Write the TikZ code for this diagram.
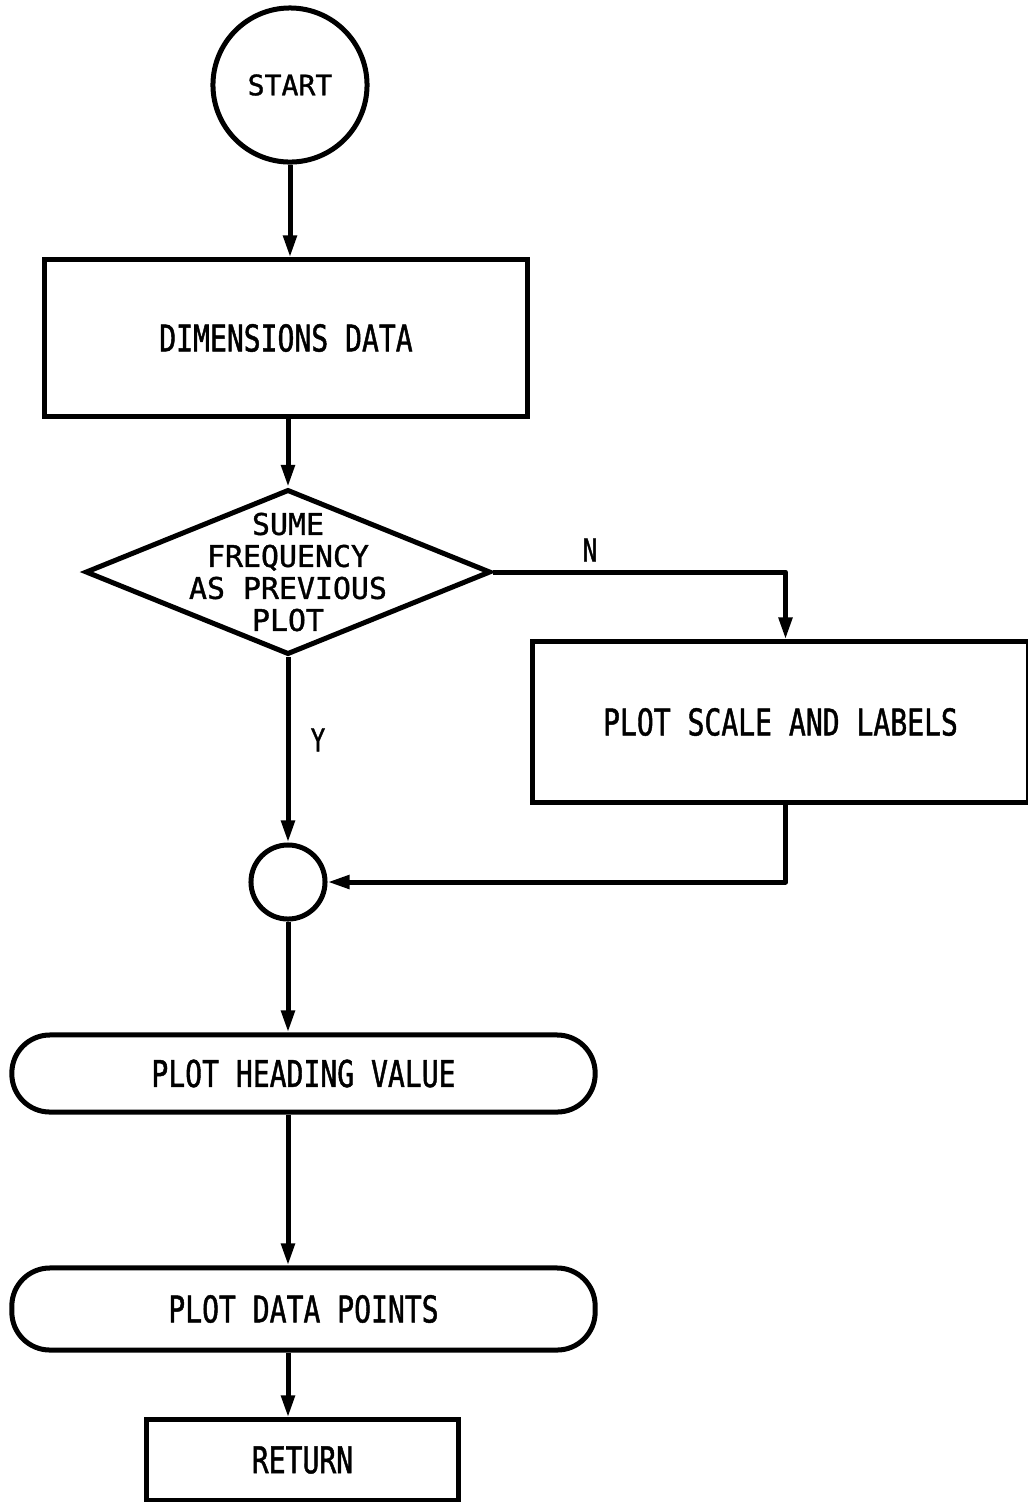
\documentclass[tikz,border=0pt]{standalone}
\usepackage{fontspec}
\newfontfamily\flowfont[FakeStretch=0.76, FakeBold=1.2]{DejaVu Sans Mono}
\newfontfamily\flowfontwide[FakeBold=1.2]{DejaVu Sans Mono}
\usetikzlibrary{positioning, shapes.geometric, arrows.meta}

\tikzset{
  flowline/.style={line width=0.05cm, line join=round, -{Triangle[length=0.22cm, width=0.13cm]}},
  procbox/.style={draw, rectangle, line width=0.05cm, inner sep=0pt,
    font=\flowfont\fontsize{10.5}{12}\selectfont},
  termbox/.style={procbox, rounded corners=0.38cm},
  joinnode/.style={draw, circle, line width=0.05cm, inner sep=0pt},
  answer/.style={font=\flowfont\fontsize{9}{10}\selectfont}
}

\begin{document}
\begin{tikzpicture}[x=0.01cm, y=-0.01cm]
  \useasboundingbox (0,0) rectangle (1028,1502);
  % nodes
  \node[joinnode, minimum size=1.54cm, font=\flowfontwide\fontsize{8}{9}\selectfont] (start) at (290,85) {START};
  \node[procbox, minimum width=4.82cm, minimum height=1.56cm] (dims) at (286,338) {DIMENSIONS DATA};
  \node[draw, diamond, line width=0.05cm, inner sep=0pt, minimum width=4.05cm, minimum height=1.65cm] (freq) at (288,572) {};
  \node[align=center, font=\flowfontwide\fontsize{8.5}{9.1}\selectfont] (freqtext) at (freq.center) {SUME\\FREQUENCY\\AS PREVIOUS\\PLOT};
  \node[procbox, minimum width=4.95cm, minimum height=1.60cm] (scale) at (780.5,722) {PLOT SCALE AND LABELS};
  \node[joinnode, minimum size=0.74cm] (junction) at (288,882) {};
  \node[termbox, minimum width=5.83cm, minimum height=0.77cm] (heading) at (303.5,1073.5) {PLOT HEADING VALUE};
  \node[termbox, minimum width=5.83cm, minimum height=0.82cm] (points) at (303.5,1309) {PLOT DATA POINTS};
  \node[procbox, minimum width=3.11cm, minimum height=0.80cm] (ret) at (302.5,1460) {RETURN};
  \node[answer] (nlabel) at (590,550) {N};
  \node[answer] (ylabel) at (318,740) {Y};
  % connectors
  \draw[flowline] (start) -- (start |- dims.north);
  \draw[flowline] (dims.south -| freq) -- (freq.north);
  \draw[flowline] (freq.east) -| ([xshift=0.05cm]scale.north);
  \draw[flowline] (freq.south) -- (junction.north);
  \draw[flowline] ([xshift=0.05cm]scale.south) |- (junction.east);
  \draw[flowline] (junction.south) -- (junction.south |- heading.north);
  \draw[flowline] (heading.south -| junction) -- (points.north -| junction);
  \draw[flowline] (points.south -| junction) -- (ret.north -| junction);
\end{tikzpicture}
\end{document}
